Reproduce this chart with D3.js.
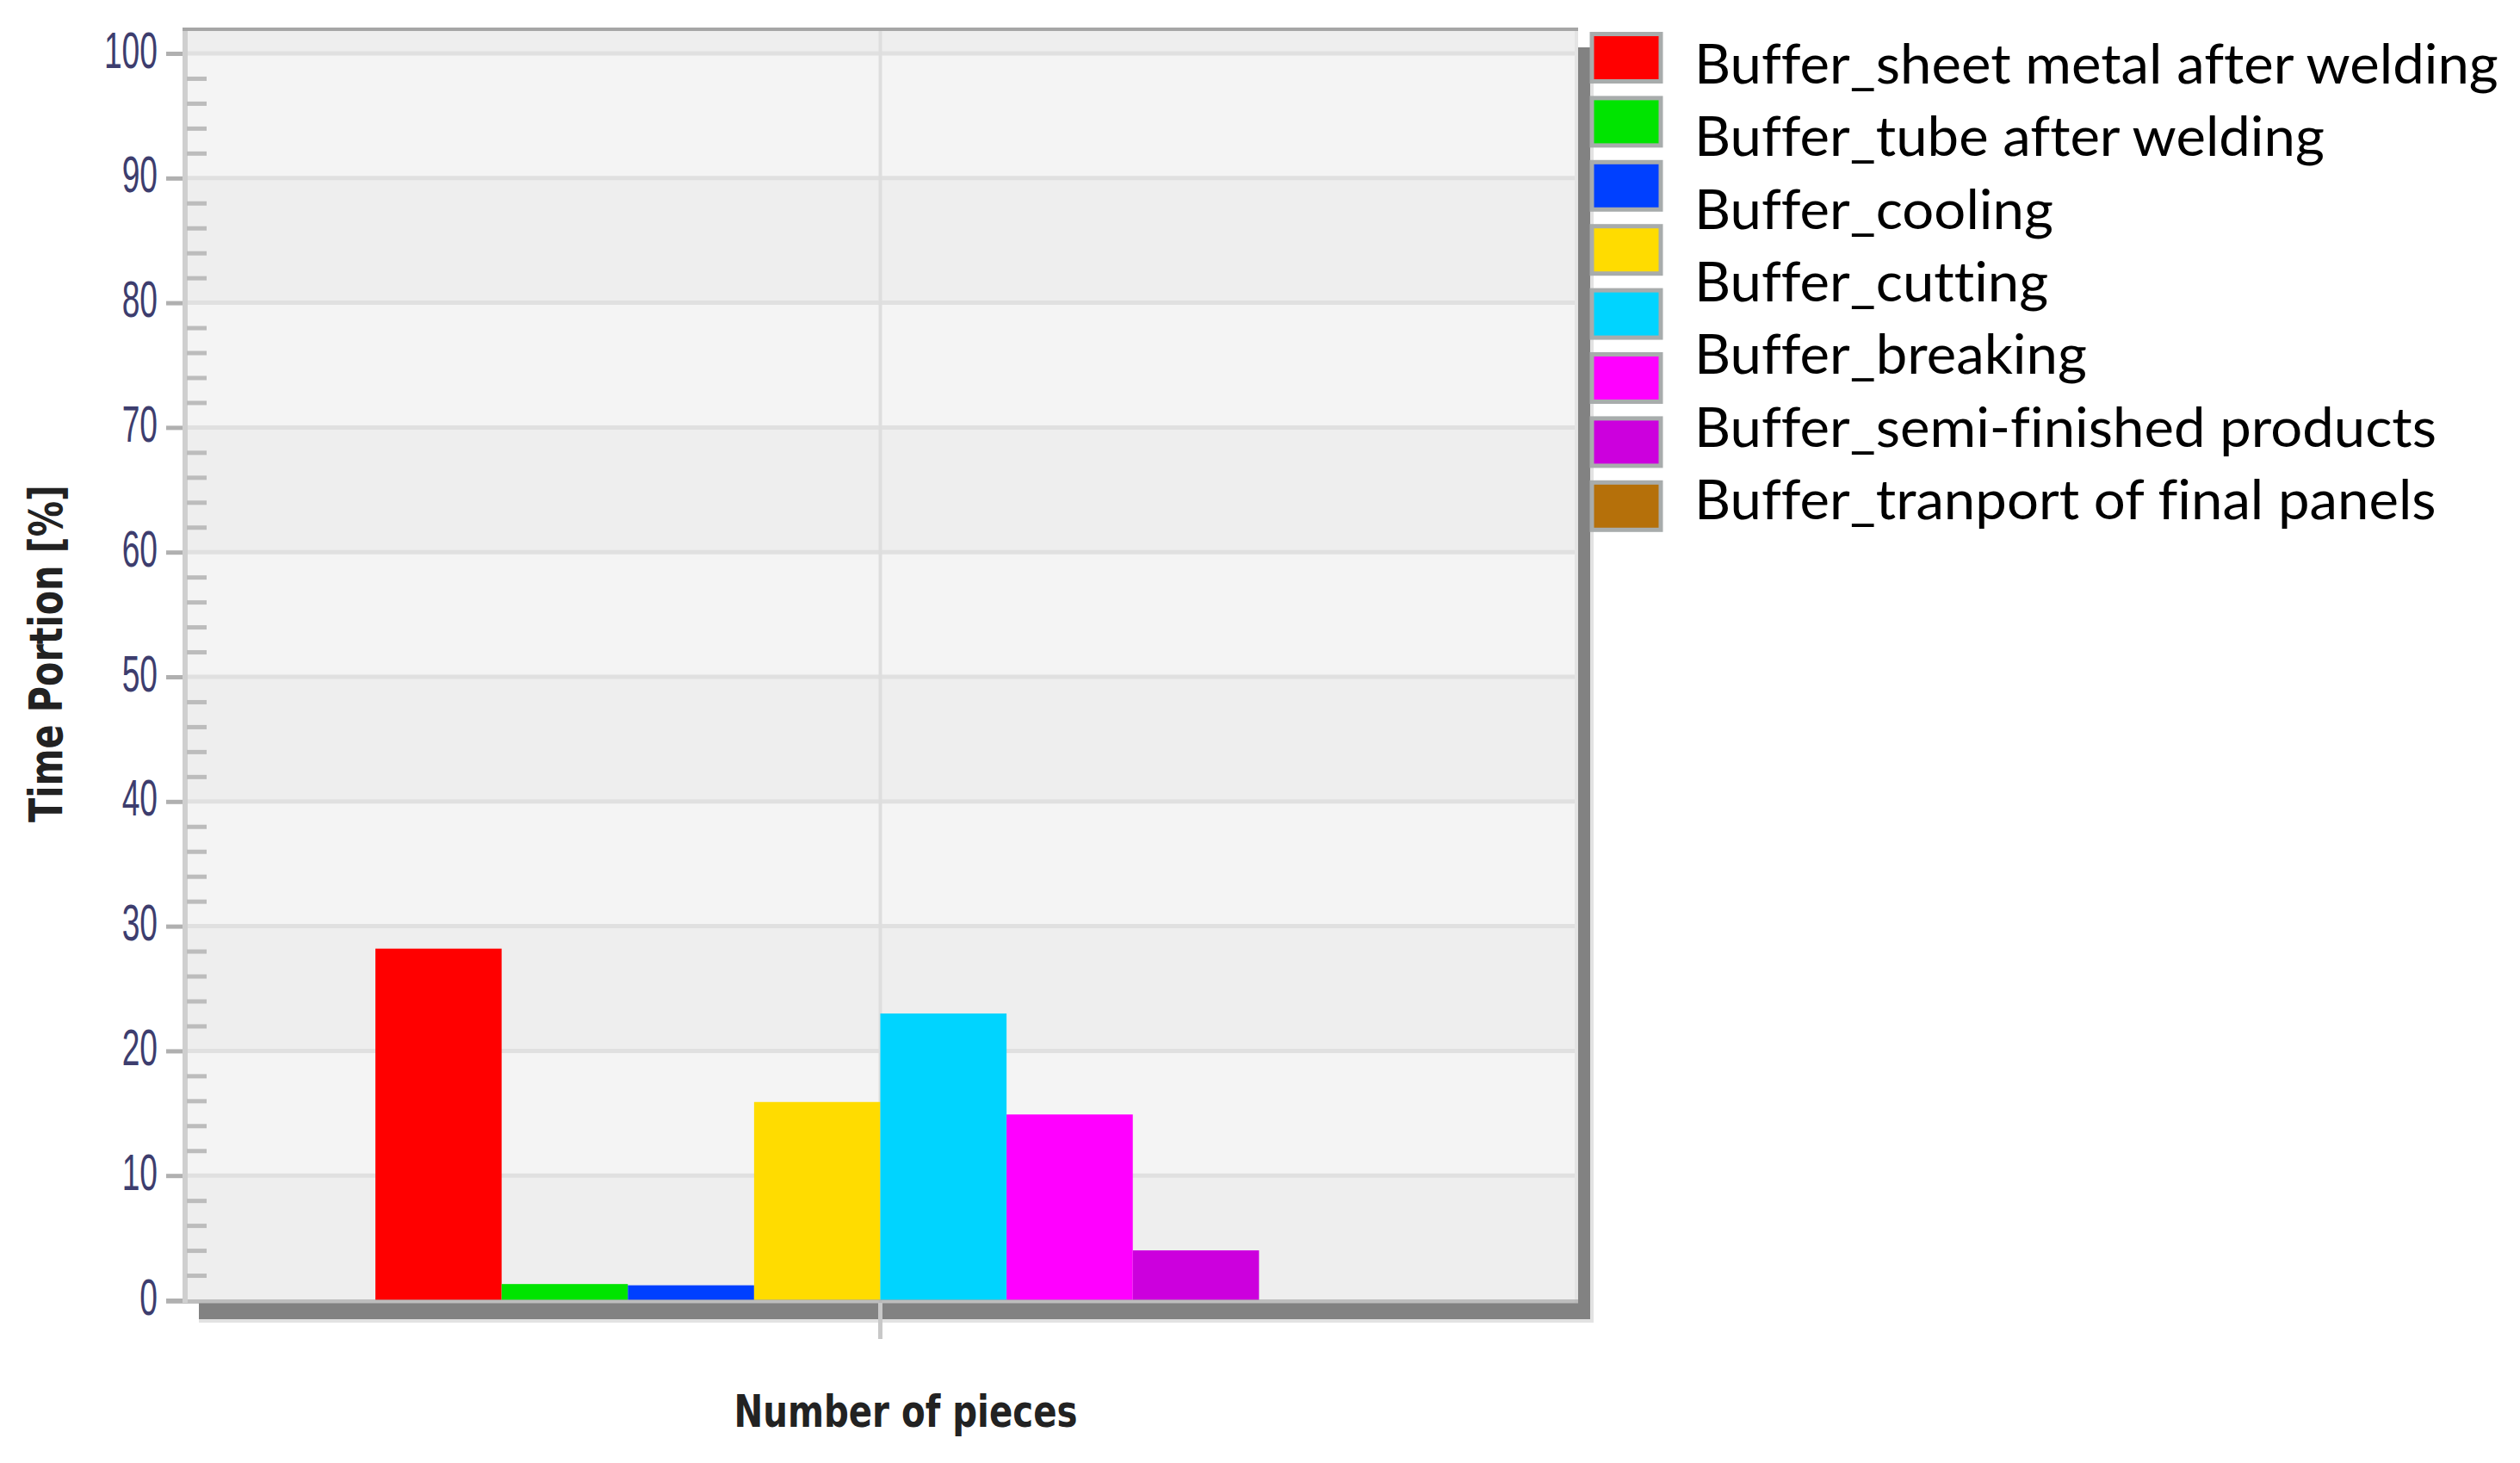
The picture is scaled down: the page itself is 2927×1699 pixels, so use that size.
<!DOCTYPE html>
<html>
<head>
<meta charset="utf-8">
<script src="https://cdn.jsdelivr.net/npm/d3@7"></script>
<style>
  html, body { margin: 0; padding: 0; background: #ffffff; }
  svg { display: block; }
  text { font-variant-ligatures: none; font-feature-settings: "liga" 0, "clig" 0; }
</style>
</head>
<body>
<script>
// ---------------- DATA ----------------
const categories = ["Number of pieces"];
const seriesKeys = ["s1", "s2", "s3", "s4", "s5", "s6", "s7", "s8"];
const seriesValues = [28.2, 1.3, 1.2, 15.9, 23.0, 14.9, 4.0, 0];
const seriesColors = ["#ff0000", "#00e400", "#0040ff", "#ffdc00", "#00d4ff", "#ff00ff", "#cc00dd", "#b5700a"];
const legendLabels = [
  "Buffer_sheet metal after welding",
  "Buffer_tube after welding",
  "Buffer_cooling",
  "Buffer_cutting",
  "Buffer_breaking",
  "Buffer_semi-finished products",
  "Buffer_tranport of final panels"
];
const majorTicks = [0, 10, 20, 30, 40, 50, 60, 70, 80, 90, 100];
const minorTicks = d3.range(0, 101, 2).filter(v => v % 10 !== 0);
const yTitle = "Time Portion [%]";
const xTitle = "Number of pieces";

// ---------------- LAYOUT ----------------
const W = 2927, H = 1699;
const plotL = 212, plotR = 1833, plotT = 34, plotB = 1513;

const svg = d3.select("body").append("svg").attr("width", W).attr("height", H);
svg.append("rect").attr("width", W).attr("height", H).attr("fill", "#ffffff");

const y = d3.scaleLinear().domain([0, 100]).range([1510, 62]);
const x0 = d3.scaleBand().domain(categories).range([plotL, plotR]).paddingInner(0).paddingOuter(0.191);
const x1 = d3.scaleBand().domain(seriesKeys).range([0, x0.bandwidth()]).padding(0);

// drop shadow of the plot frame
svg.append("rect").attr("x", 231).attr("y", 55).attr("width", 1851 - 231).attr("height", 1536 - 55).attr("fill", "#e2e2e2");
svg.append("rect").attr("x", 231).attr("y", 55).attr("width", 1847 - 231).attr("height", 1532 - 55).attr("fill", "#828282");

// plot background with alternating bands
svg.append("rect").attr("x", plotL).attr("y", plotT).attr("width", plotR - plotL).attr("height", plotB - plotT).attr("fill", "#eeeeee");
const bands = d3.range(0, 100, 10);
svg.append("g").selectAll("rect").data(bands).join("rect")
  .attr("x", plotL).attr("width", plotR - plotL)
  .attr("y", d => y(d + 10)).attr("height", d => y(d) - y(d + 10))
  .attr("fill", d => (d / 10) % 2 === 1 ? "#f4f4f4" : "#eeeeee");

// horizontal gridlines
svg.append("g").selectAll("line").data(majorTicks.filter(v => v > 0)).join("line")
  .attr("x1", plotL).attr("x2", plotR)
  .attr("y1", d => y(d)).attr("y2", d => y(d))
  .attr("stroke", "#e0e0e0").attr("stroke-width", 5);

// vertical center gridline
const cx = x0(categories[0]) + x0.bandwidth() / 2;
svg.append("line").attr("x1", cx).attr("x2", cx).attr("y1", plotT).attr("y2", plotB)
  .attr("stroke", "#dedede").attr("stroke-width", 4);

// right inner border
svg.append("line").attr("x1", plotR - 2).attr("x2", plotR - 2).attr("y1", plotT).attr("y2", plotB)
  .attr("stroke", "#e4e4e4").attr("stroke-width", 4);

// bars
svg.append("g").selectAll("rect").data(seriesKeys.map((k, i) => ({ k, v: seriesValues[i], c: seriesColors[i] })))
  .join("rect")
  .attr("x", d => x0(categories[0]) + x1(d.k))
  .attr("width", x1.bandwidth())
  .attr("y", d => y(d.v))
  .attr("height", d => y(0) - y(d.v))
  .attr("fill", d => d.c);

// zero line over bars
svg.append("line").attr("x1", 193).attr("x2", plotR).attr("y1", y(0) + 1.5).attr("y2", y(0) + 1.5)
  .attr("stroke", "#a8a8a8").attr("stroke-opacity", 0.7).attr("stroke-width", 5);

// x tick below plot
svg.append("line").attr("x1", cx).attr("x2", cx).attr("y1", plotB).attr("y2", 1555)
  .attr("stroke", "#c8c8c8").attr("stroke-width", 5);

// left axis line
svg.append("rect").attr("x", plotL).attr("y", plotT).attr("width", 6).attr("height", plotB - plotT).attr("fill", "#cfcfcf");
// top border
svg.append("rect").attr("x", plotL).attr("y", plotT - 2).attr("width", plotR - plotL).attr("height", 4).attr("fill", "#a6a6a6");

// y axis: major ticks (outward) with labels
const yAxisMajor = d3.axisLeft(y).tickValues(majorTicks).tickSize(19).tickFormat(d3.format("d"));
const gMaj = svg.append("g").attr("transform", `translate(${plotL},0)`).call(yAxisMajor);
gMaj.select(".domain").remove();
gMaj.selectAll(".tick line").attr("stroke", "#b0b0b0").attr("stroke-width", 5);
gMaj.selectAll(".tick text")
  .attr("x", 0).attr("dy", null)
  .attr("transform", "translate(-29,16) scale(0.62,1)")
  .attr("text-anchor", "end")
  .attr("font-family", "Liberation Sans, Arial, sans-serif")
  .attr("font-size", 60)
  .attr("fill", "#3d3d6e");

// y axis: minor ticks (inward)
const yAxisMinor = d3.axisLeft(y).tickValues(minorTicks).tickSize(-23).tickFormat("");
const gMin = svg.append("g").attr("transform", `translate(${plotL + 5},0)`).call(yAxisMinor);
gMin.select(".domain").remove();
gMin.selectAll(".tick line").attr("stroke", "#bcbcbc").attr("stroke-width", 5);

// helper to squeeze text to a target width
function fitWidth(sel, target) {
  const len = sel.node().getComputedTextLength();
  return target / len;
}

// y title
const yt = svg.append("text").text(yTitle)
  .attr("font-family", "DejaVu Sans, sans-serif").attr("font-weight", "bold")
  .attr("font-size", 53).attr("fill", "#222222").attr("text-anchor", "middle");
const sY = fitWidth(yt, 392);
yt.attr("transform", `translate(72,759) rotate(-90) scale(${sY},1)`);

// x title
const xt = svg.append("text").text(xTitle)
  .attr("font-family", "DejaVu Sans, sans-serif").attr("font-weight", "bold")
  .attr("font-size", 51).attr("fill", "#222222").attr("text-anchor", "middle");
const sX = fitWidth(xt, 399);
xt.attr("transform", `translate(1052,1657) scale(${sX},1)`);

// legend swatches
const legendG = svg.append("g");
legendG.selectAll("rect").data(seriesColors).join("rect")
  .attr("x", 1849).attr("y", (d, i) => 39.5 + i * 74.4)
  .attr("width", 80).attr("height", 55)
  .attr("fill", d => d)
  .attr("stroke", "#a8acac").attr("stroke-width", 5);

// legend labels
const lt = legendG.selectAll("text").data(legendLabels).join("text")
  .text(d => d)
  .attr("font-family", "Lato, sans-serif")
  .attr("font-size", 63)
  .attr("fill", "#000000");
const sL = 934 / lt.nodes()[0].getComputedTextLength();
lt.attr("transform", (d, i) => `translate(1968,${97 + i * 84.3}) scale(${sL},1)`);
</script>
</body>
</html>
